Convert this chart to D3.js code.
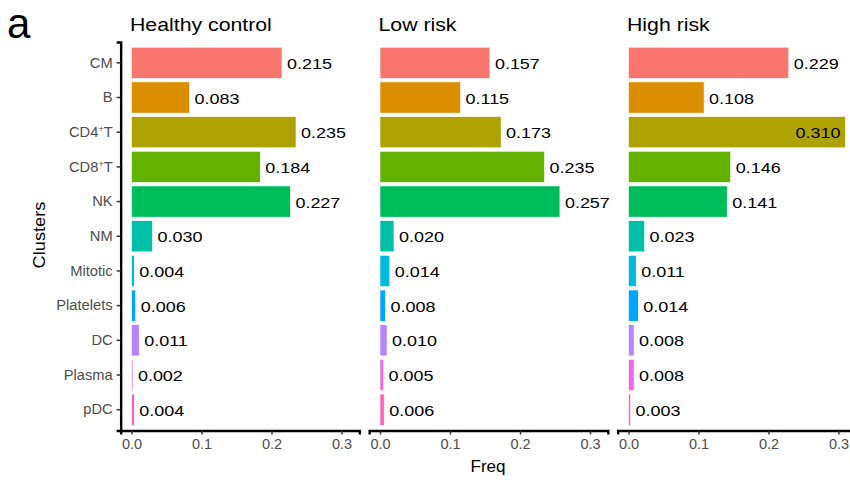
<!DOCTYPE html>
<html>
<head>
<meta charset="utf-8">
<script src="https://cdn.jsdelivr.net/npm/d3@7"></script>
<style>
  html, body { margin: 0; padding: 0; background: #fff; }
  svg { display: block; font-family: "Liberation Sans", Arial, Helvetica, sans-serif; }
</style>
</head>
<body>
<svg id="chart" width="850" height="480"></svg>
<script>
// ---- data ----
const clusters = ["CM", "B", "CD4+T", "CD8+T", "NK", "NM", "Mitotic", "Platelets", "DC", "Plasma", "pDC"];
const groups = ["Healthy control", "Low risk", "High risk"];
const healthyFreq = [0.215, 0.083, 0.235, 0.184, 0.227, 0.030, 0.004, 0.006, 0.011, 0.002, 0.004];
const lowRiskFreq = [0.157, 0.115, 0.173, 0.235, 0.257, 0.020, 0.014, 0.008, 0.010, 0.005, 0.006];
const highRiskFreq = [0.229, 0.108, 0.310, 0.146, 0.141, 0.023, 0.011, 0.014, 0.008, 0.008, 0.003];
const xTicks = [0, 0.1, 0.2, 0.3];
const palette = ["#F8766D", "#DB8E00", "#AEA200", "#64B200", "#00BD5C", "#00C1A7", "#00BADE", "#00A6FF", "#B385FF", "#EF67EB", "#FF63B6"];

const seriesByGroup = [healthyFreq, lowRiskFreq, highRiskFreq];

// ---- layout ----
const svg = d3.select("#chart");
const panelW = 238.7, panelStep = 248.5, panelLeft0 = 120.65;
const plotTop = 42, plotBottom = 430.5;
const maxV = d3.max(seriesByGroup.flat());
const padV = maxV * 0.05;
const xDomain = [-padV, maxV + padV];

const y = d3.scaleBand().domain(clusters).range([plotTop, plotBottom]).paddingInner(0.1).paddingOuter(0.15);
const color = d3.scaleOrdinal().domain(clusters).range(palette);

// "a" panel tag
svg.append("text").attr("x", 7).attr("y", 38).attr("font-size", 42).attr("fill", "#000").text("a");

// stretched text helper
function sText(parent, x, yy, sx, txt, opts) {
  const g = parent.append("g").attr("transform", `translate(${x},${yy}) scale(${sx},1)`);
  const t = g.append("text").text(txt);
  Object.entries(opts || {}).forEach(([k, v]) => t.attr(k, v));
  return t;
}

groups.forEach((grp, gi) => {
  const x0 = panelLeft0 + gi * panelStep;
  const x = d3.scaleLinear().domain(xDomain).range([x0, x0 + panelW]);
  const data = clusters.map((c, i) => ({ c, v: seriesByGroup[gi][i] }));
  const g = svg.append("g");

  // title
  sText(g, x(0) - 1.5, 30.5, 1.12, grp, { "font-size": 19, fill: "#000" });

  // bars
  g.selectAll("rect.bar").data(data).join("rect")
    .attr("class", "bar")
    .attr("x", x(0))
    .attr("y", d => y(d.c))
    .attr("width", d => x(d.v) - x(0))
    .attr("height", y.bandwidth())
    .attr("fill", d => color(d.c))
    .attr("stroke", "#fff").attr("stroke-width", 0.6);

  // value labels
  const labelScale = 1.16, labelSize = 15.5;
  data.forEach(d => {
    const txt = d3.format(".3f")(d.v);
    const estW = txt.length * 0.5 * labelSize * labelScale;
    const cy = y(d.c) + y.bandwidth() / 2 + 1;
    let lx = x(d.v) + 5;
    let anchor = "start";
    if (lx + estW > x0 + panelW + 2 && gi === groups.length - 1) {
      lx = x(d.v) - 5; anchor = "end";
    }
    sText(g, lx, cy, labelScale, txt, { "font-size": labelSize, fill: "#000", "dominant-baseline": "central", "text-anchor": anchor });
  });

  // bottom axis
  const ax = g.append("g").attr("transform", `translate(0,${plotBottom})`)
    .call(d3.axisBottom(x).tickValues(xTicks).tickFormat(d3.format(".1f")).tickSizeOuter(0).tickSize(4).tickPadding(4));
  ax.select(".domain").attr("stroke", "#000").attr("stroke-width", 2.4);
  ax.selectAll(".tick line").attr("stroke", "#333").attr("stroke-width", 1.5);
  ax.selectAll(".tick text").attr("fill", "#4D4D4D").attr("font-size", 14.5).attr("font-family", "Liberation Sans, Arial, sans-serif");

  if (gi === 0) {
    const ay = g.append("g").attr("transform", `translate(${x0},0)`)
      .call(d3.axisLeft(y).tickSizeOuter(0).tickSize(4).tickPadding(4));
    ay.select(".domain").attr("stroke", "#000").attr("stroke-width", 2.4);
    ay.selectAll(".tick line").attr("stroke", "#333").attr("stroke-width", 1.5);
    ay.selectAll(".tick text").attr("fill", "#4D4D4D").attr("font-size", 14.7)
      .attr("font-family", "Liberation Sans, Arial, sans-serif")
      .each(function(d) {
        const m = d.match(/^(CD\d)\+(T)$/);
        if (m) {
          const t = d3.select(this).text(null);
          t.append("tspan").text(m[1]);
          t.append("tspan").attr("font-size", 9).attr("dy", -5).text("+");
          t.append("tspan").attr("dy", 5).text(m[2]);
        }
      });
  }
});

// axis titles
sText(svg, 488, 472, 1.0, "Freq", { "font-size": 17, fill: "#000", "text-anchor": "middle" });
const cl = svg.append("g").attr("transform", `translate(45,235) rotate(-90) scale(1.14,1)`);
cl.append("text").attr("text-anchor", "middle").attr("font-size", 16).attr("fill", "#000").text("Clusters");
</script>
</body>
</html>
